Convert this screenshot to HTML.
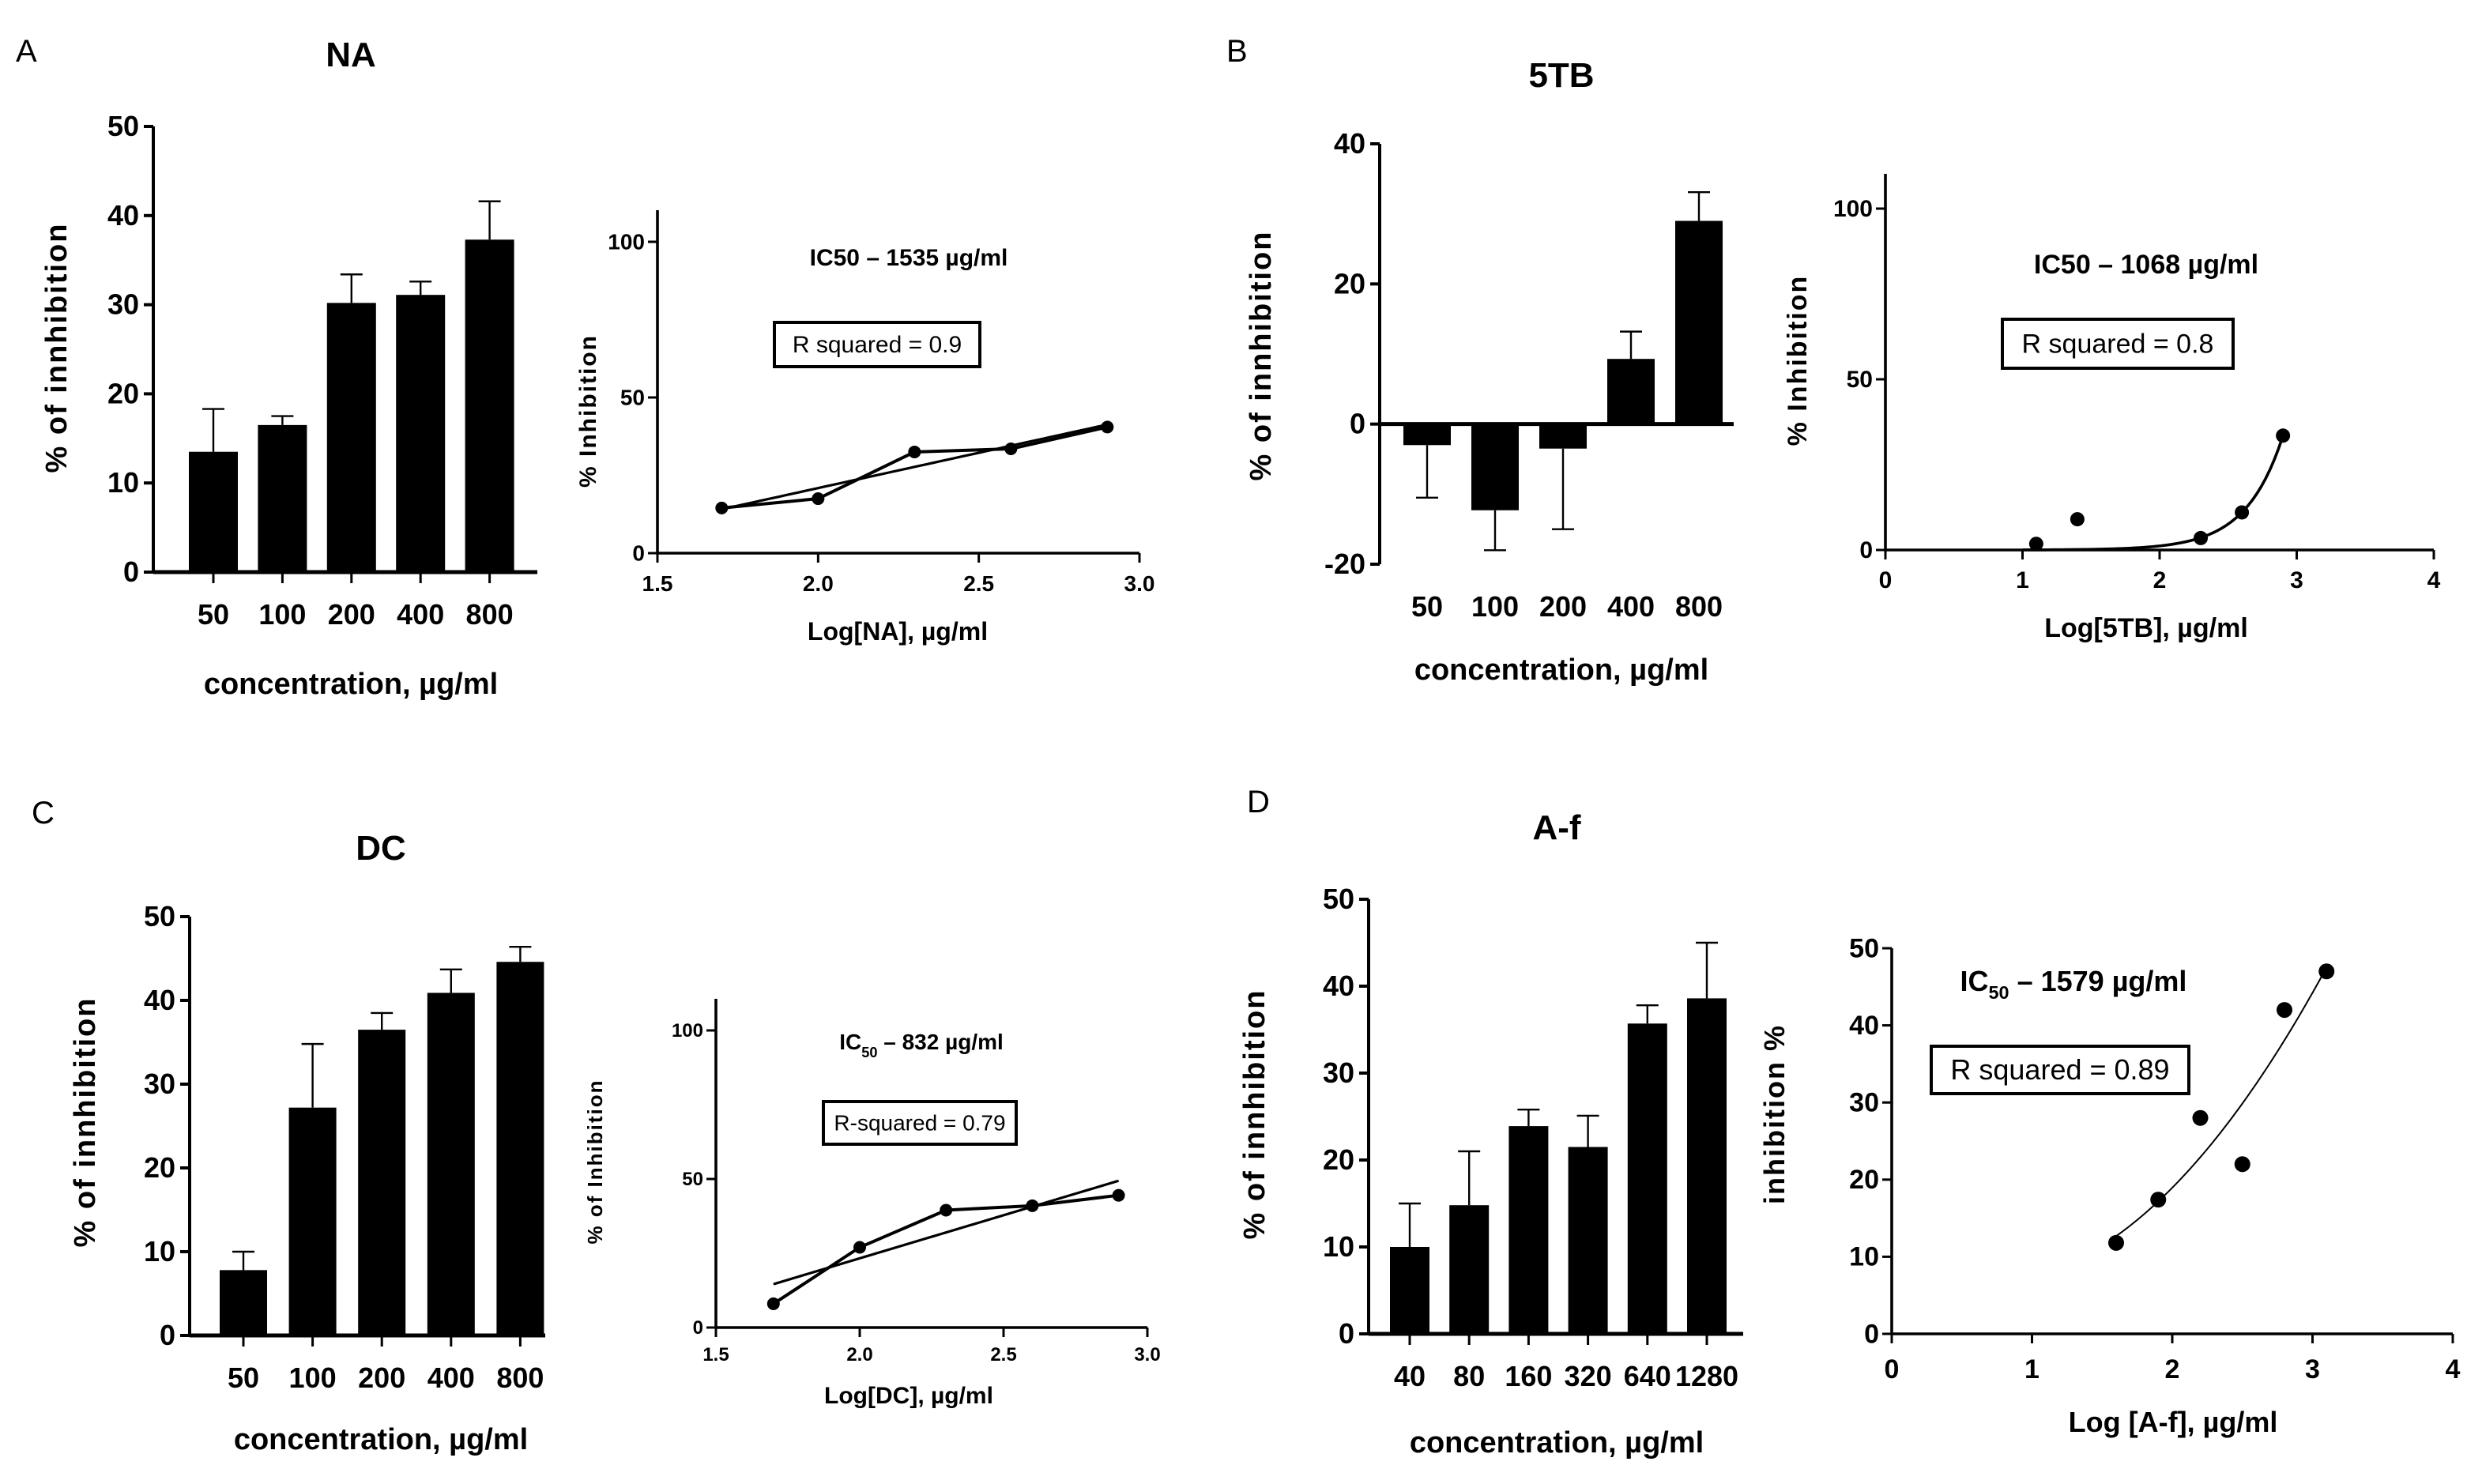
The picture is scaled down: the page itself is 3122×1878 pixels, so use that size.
<!DOCTYPE html>
<html><head><meta charset="utf-8"><style>
html,body{margin:0;padding:0;background:#fff;}
svg{display:block;}
text{font-family:"Liberation Sans Narrow","Liberation Sans",sans-serif;fill:#000;}
.lt{font-family:"Liberation Sans",sans-serif;font-weight:bold;letter-spacing:1px;}
.pl{font-family:"Liberation Sans",sans-serif;font-weight:normal;}
</style></head><body>
<svg id="fig" width="3122" height="1878" viewBox="0 0 1561 939" xmlns="http://www.w3.org/2000/svg"></svg>
<script>
// ---- Panel A data ----
const catsA = ["50","100","200","400","800"];
const valsA = [13.5,16.5,30.2,31.1,37.3];
const errA = [18.3,17.5,33.4,32.6,41.6];
const logA = [1.7,2.0,2.3,2.6,2.9];
const inhA = [14.5,17.5,32.5,33.5,40.5];
// ---- Panel B data ----
const catsB = ["50","100","200","400","800"];
const valsB = [-3,-12.3,-3.5,9.3,29];
const errB = [-10.5,-18,-15,13.2,33.1];
const logB = [1.1,1.4,2.3,2.6,2.9];
const inhB = [1.8,9,3.5,11,33.5];
// ---- Panel C data ----
const catsC = ["50","100","200","400","800"];
const valsC = [7.8,27.2,36.5,40.9,44.6];
const errC = [10,34.8,38.5,43.7,46.4];
const logC = [1.7,2.0,2.3,2.6,2.9];
const inhC = [8,27,39.5,41,44.5];
// ---- Panel D data ----
const catsD = ["40","80","160","320","640","1280"];
const valsD = [10,14.8,23.9,21.5,35.7,38.6];
const errD = [15,21,25.8,25.1,37.8,45];
const logD = [1.6,1.9,2.2,2.5,2.8,3.1];
const inhD = [11.8,17.4,28,22,42,47];

const NS="http://www.w3.org/2000/svg";
const svg=document.getElementById('fig');
function el(tag,attrs,parent,txt){const e=document.createElementNS(NS,tag);for(const k in attrs)e.setAttribute(k,attrs[k]);if(txt!==undefined)e.textContent=txt;(parent||svg).appendChild(e);return e;}
function grp(name){const g=el('g',{});return g;}

function txt(g,x,y,s,size,name,opts){opts=opts||{};
  const t=el('text',{x:x,y:y,'font-size':size,'text-anchor':opts.anchor||'middle','font-weight':opts.weight||'bold'},g,s);
  if(opts.cls)t.setAttribute('class',opts.cls);
  if(opts.rot)t.setAttribute('transform','rotate(-90 '+x+' '+y+')');
  
  
  return t;}

function barChart(name,cfg,cats,vals,errs){
  const g=grp(name);
  const ys=v=>cfg.y0+(v-cfg.ymin)/(cfg.ymax-cfg.ymin)*(cfg.y1-cfg.y0);
  const xs=i=>cfg.xc0+i*cfg.step;
  const base=ys(0);
  cats.forEach((c,i)=>{
    const x=xs(i),v=ys(vals[i]);
    const b=el('rect',{x:x-cfg.bw/2,y:Math.min(v,base),width:cfg.bw,height:Math.abs(v-base),fill:'#000'},g);
    
    
    const e=ys(errs[i]);
    const eg=el('path',{d:'M'+x+' '+v+'V'+e+'M'+(x-7)+' '+e+'H'+(x+7),stroke:'#000','stroke-width':1.2,fill:'none'},g);
    
    
    txt(g,x,cfg.xlabY,c,18,'x-tick-label');
    if(cfg.xticks) el('line',{x1:x,x2:x,y1:base,y2:base+7,stroke:'#000','stroke-width':1.5},g);
  });
  const ya=el('line',{x1:cfg.ax,x2:cfg.ax,y1:ys(cfg.ymax),y2:ys(cfg.ymin),stroke:'#000','stroke-width':2},g);
  
  const xa=el('line',{x1:cfg.ax,x2:cfg.axEnd,y1:base,y2:base,stroke:'#000','stroke-width':2.5},g);
  
  for(let v=cfg.ymin;v<=cfg.ymax;v+=cfg.ystep){
    const y=ys(v);
    el('line',{x1:cfg.ax-6,x2:cfg.ax,y1:y,y2:y,stroke:'#000','stroke-width':2},g);
    txt(g,cfg.ax-9,y+6,String(v),18,'y-tick-label',{anchor:'end'});
  }
  txt(g,cfg.titleX,cfg.titleY,cfg.title,22,'chart-title');
  txt(g,cfg.titleX,cfg.xtY,'concentration, µg/ml',19,'x-axis-title');
  txt(g,cfg.ytX,cfg.ytY,'% of innhibition',19,'y-axis-title',{rot:true,cls:'lt'});
}

function lineChart(name,cfg,xsd,ysd,fitFn){
  const g=grp(name);
  const sx=v=>cfg.x0+(v-cfg.xmin)/(cfg.xmax-cfg.xmin)*(cfg.x1-cfg.x0);
  const sy=v=>cfg.y0+(v-cfg.ymin)/(cfg.ymax-cfg.ymin)*(cfg.y1-cfg.y0);
  el('line',{x1:cfg.x0,x2:cfg.x0,y1:cfg.ytop,y2:sy(cfg.ymin),stroke:'#000','stroke-width':1.8},g);
  el('line',{x1:cfg.x0,x2:cfg.x1,y1:sy(cfg.ymin),y2:sy(cfg.ymin),stroke:'#000','stroke-width':1.8},g);
  cfg.xticks.forEach(v=>{const x=sx(v);el('line',{x1:x,x2:x,y1:sy(cfg.ymin),y2:sy(cfg.ymin)+6,stroke:'#000','stroke-width':1.5},g);
    txt(g,x,sy(cfg.ymin)+cfg.xlOff,cfg.xfmt(v),cfg.fs,'x-tick-label');});
  cfg.yticks.forEach(v=>{const y=sy(v);el('line',{x1:cfg.x0-6,x2:cfg.x0,y1:y,y2:y,stroke:'#000','stroke-width':1.5},g);
    txt(g,cfg.x0-8,y+cfg.fs/3,String(v),cfg.fs,'y-tick-label',{anchor:'end'});});
  if(cfg.connect){
    const p=el('polyline',{points:xsd.map((v,i)=>sx(v)+','+sy(ysd[i])).join(' '),fill:'none',stroke:'#000','stroke-width':2},g);
    
  }
  let d='';const a=cfg.fitRange[0],b=cfg.fitRange[1];
  for(let k=0;k<=60;k++){const v=a+(b-a)*k/60;d+=(k?'L':'M')+sx(v).toFixed(2)+' '+sy(fitFn(v)).toFixed(2);}
  const f=el('path',{d:d,fill:'none',stroke:'#000','stroke-width':cfg.fitW},g);
  
  xsd.forEach((v,i)=>{const c=el('circle',{cx:sx(v),cy:sy(ysd[i]),r:cfg.r,fill:'#000'},g);
    });
  txt(g,cfg.ytX,cfg.ytY,cfg.ytitle,cfg.ytfs,'y-axis-title',{rot:true,cls:'lt'});
  txt(g,cfg.xtX,cfg.xtY,cfg.xtitle,cfg.xtfs,'x-axis-title');
  const ic=el('text',{x:cfg.icX,y:cfg.icY,'font-size':cfg.icfs,'text-anchor':'middle','font-weight':'bold'},g);
  
  if(cfg.sub){el('tspan',{},ic,'IC');el('tspan',{'font-size':cfg.icfs*0.65,dy:5},ic,'50');el('tspan',{dy:-5},ic,cfg.icText);}
  else ic.textContent=cfg.icText;
  const bx=el('rect',{x:cfg.box[0],y:cfg.box[1],width:cfg.box[2],height:cfg.box[3],fill:'#fff',stroke:'#000','stroke-width':2},g);
  
  txt(g,cfg.box[0]+cfg.box[2]/2,cfg.box[1]+cfg.box[3]/2+cfg.rfs/3,cfg.rText,cfg.rfs,'r-squared-label',{weight:'normal'});
}
function linFit(xs,ys){const n=xs.length;let sx=0,sy=0,sxx=0,sxy=0;xs.forEach((x,i)=>{sx+=x;sy+=ys[i];sxx+=x*x;sxy+=x*ys[i];});
  const m=(n*sxy-sx*sy)/(n*sxx-sx*sx);const c=(sy-m*sx)/n;return v=>m*v+c;}
function quadFit(xs,ys){
  const S=k=>xs.reduce((a,x)=>a+Math.pow(x,k),0),T=k=>xs.reduce((a,x,i)=>a+Math.pow(x,k)*ys[i],0);
  const M=[[S(4),S(3),S(2),T(2)],[S(3),S(2),S(1),T(1)],[S(2),S(1),xs.length,T(0)]];
  for(let i=0;i<3;i++){for(let j=i+1;j<3;j++){const f=M[j][i]/M[i][i];for(let k=i;k<4;k++)M[j][k]-=f*M[i][k];}}
  const r=[0,0,0];for(let i=2;i>=0;i--){let s=M[i][3];for(let k=i+1;k<3;k++)s-=M[i][k]*r[k];r[i]=s/M[i][i];}
  return v=>r[0]*v*v+r[1]*v+r[2];}
function expFit(xs,ys){
  const n=xs.length,k=Math.log(ys[n-1]/ys[n-2])/(xs[n-1]-xs[n-2]);return v=>ys[n-1]*Math.exp(k*(v-xs[n-1]));}

[['A',10,39],['B',776,39],['C',20,521],['D',789,514]].forEach(p=>{txt(svg,p[1],p[2],p[0],20,'panel-label-'+p[0].toLowerCase(),{anchor:'start',weight:'normal',cls:'pl'});});

barChart('panel-a-bar-chart',{y0:362,y1:80,ymin:0,ymax:50,ystep:10,ax:97,axEnd:340,xc0:135,step:43.7,bw:31,xlabY:395,xticks:true,
  title:'NA',titleX:222,titleY:42,xtY:439,ytX:42,ytY:220},catsA,valsA,errA);
barChart('panel-b-bar-chart',{y0:357,y1:91,ymin:-20,ymax:40,ystep:20,ax:873,axEnd:1097,xc0:903,step:43,bw:30,xlabY:390,xticks:false,
  title:'5TB',titleX:988,titleY:55,xtY:430,ytX:804,ytY:225},catsB,valsB,errB);
barChart('panel-c-bar-chart',{y0:845,y1:580,ymin:0,ymax:50,ystep:10,ax:120,axEnd:345,xc0:154,step:43.8,bw:30,xlabY:878,xticks:true,
  title:'DC',titleX:241,titleY:544,xtY:917,ytX:60,ytY:710},catsC,valsC,errC);
barChart('panel-d-bar-chart',{y0:844,y1:569,ymin:0,ymax:50,ystep:10,ax:866,axEnd:1103,xc0:892,step:37.6,bw:25,xlabY:877,xticks:true,
  title:'A-f',titleX:985,titleY:531,xtY:919,ytX:800,ytY:705},catsD,valsD,errD);

lineChart('panel-a-dose-response',{x0:416,x1:721,xmin:1.5,xmax:3,y0:350,y1:153,ymin:0,ymax:100,ytop:133,
  xticks:[1.5,2,2.5,3],xfmt:v=>v.toFixed(1),yticks:[0,50,100],fs:14,xlOff:24,connect:true,fitRange:[1.7,2.9],fitW:1.6,r:4,
  ytitle:'% Inhibition',ytX:377,ytY:260,ytfs:15,xtitle:'Log[NA], µg/ml',xtX:568,xtY:405,xtfs:16,
  icText:'IC50 – 1535 µg/ml',icX:575,icY:168,icfs:15,box:[490,204,130,28],rText:'R squared = 0.9',rfs:15},logA,inhA,linFit(logA,inhA));
lineChart('panel-b-dose-response',{x0:1193,x1:1540,xmin:0,xmax:4,y0:348,y1:132,ymin:0,ymax:100,ytop:110,
  xticks:[0,1,2,3,4],xfmt:v=>String(v),yticks:[0,50,100],fs:15,xlOff:24,connect:false,fitRange:[1.0,2.9],fitW:1.8,r:4.5,
  ytitle:'% Inhibition',ytX:1143,ytY:228,ytfs:17,xtitle:'Log[5TB], µg/ml',xtX:1358,xtY:403,xtfs:17,
  icText:'IC50 – 1068 µg/ml',icX:1358,icY:173,icfs:17,box:[1267,202,146,31],rText:'R squared = 0.8',rfs:17},logB,inhB,expFit(logB,inhB));
lineChart('panel-c-dose-response',{x0:453,x1:726,xmin:1.5,xmax:3,y0:840,y1:652,ymin:0,ymax:100,ytop:632,
  xticks:[1.5,2,2.5,3],xfmt:v=>v.toFixed(1),yticks:[0,50,100],fs:12,xlOff:21,connect:true,fitRange:[1.7,2.9],fitW:1.6,r:4,
  ytitle:'% of Inhibition',ytX:381,ytY:735,ytfs:13,xtitle:'Log[DC], µg/ml',xtX:575,xtY:888,xtfs:15,
  icText:' – 832 µg/ml',sub:true,icX:583,icY:664,icfs:14,box:[521,697,122,27],rText:'R-squared = 0.79',rfs:14},logC,inhC,linFit(logC,inhC));
lineChart('panel-d-dose-response',{x0:1197,x1:1552,xmin:0,xmax:4,y0:844,y1:600,ymin:0,ymax:50,ytop:600,
  xticks:[0,1,2,3,4],xfmt:v=>String(v),yticks:[0,10,20,30,40,50],fs:17,xlOff:28,connect:false,fitRange:[1.6,3.1],fitW:1,r:5,
  ytitle:'inhibition %',ytX:1129,ytY:705,ytfs:18,xtitle:'Log [A-f], µg/ml',xtX:1375,xtY:906,xtfs:18,
  icText:'  – 1579 µg/ml',sub:true,icX:1312,icY:627,icfs:18,box:[1222,662,163,30],rText:'R squared = 0.89',rfs:18},logD,inhD,quadFit(logD,inhD));
</script>
</body></html>
